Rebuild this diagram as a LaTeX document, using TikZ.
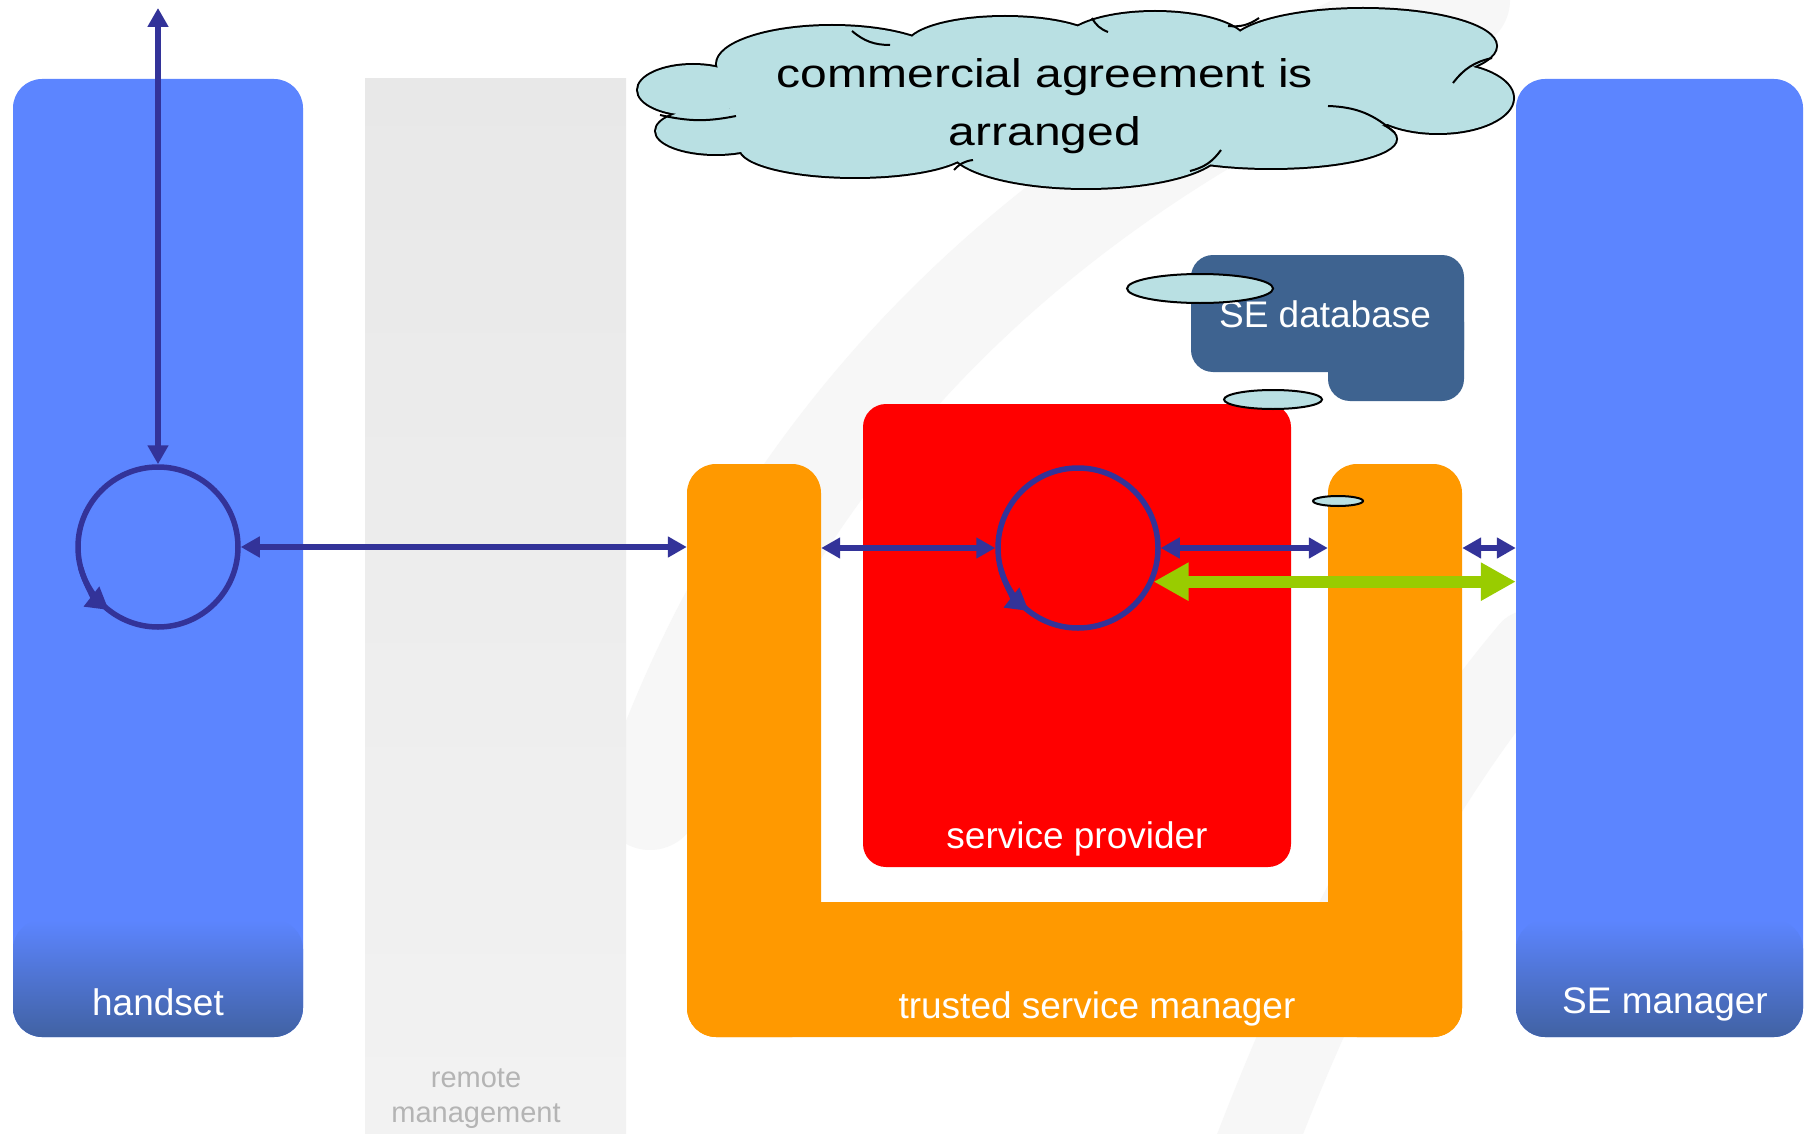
\documentclass[tikz,border=0pt]{standalone}
\usepackage{fontspec}
\setmainfont{Liberation Sans}
\newfontfamily\cloudfont[FakeStretch=1.2]{Liberation Sans}
\usepackage{xcolor}
\usepackage{tikz}
\usetikzlibrary{arrows.meta,positioning}

\definecolor{boxblue}{HTML}{5C85FF}
\definecolor{boxdark}{HTML}{4162A3}
\definecolor{tsmorange}{HTML}{FF9900}
\definecolor{spred}{HTML}{FF0000}
\definecolor{dbblue}{HTML}{3E6390}
\definecolor{arrowblue}{HTML}{333399}
\definecolor{arrowgreen}{HTML}{99CC00}
\definecolor{cloudcyan}{HTML}{B9E0E3}
\definecolor{remotegray}{HTML}{B4B4B4}

\tikzset{
	panel/.style={rectangle, rounded corners=29pt, fill=boxblue, inner sep=0pt, minimum height=958pt},
	panelfoot/.style={rectangle, rounded corners=29pt, top color=boxblue, bottom color=boxdark, inner sep=0pt, minimum height=117pt},
	arm/.style={rectangle, rounded corners=29pt, fill=tsmorange, inner sep=0pt},
	dbbox/.style={rectangle, rounded corners=22pt, fill=dbblue, inner sep=0pt},
	ring/.style={circle, minimum size=160pt, inner sep=0pt, draw=arrowblue, line width=5.5pt},
	ringtip/.style={draw=arrowblue, line width=5.5pt, -{Triangle[length=22pt,width=24pt]}},
	dbl/.style={draw=arrowblue, line width=6pt, {Triangle[length=19pt,width=20pt]}-{Triangle[length=19pt,width=20pt]}},
	fat/.style={draw=arrowgreen, line width=12pt, {Triangle[length=35pt,width=36pt]}-{Triangle[length=35pt,width=36pt]}},
	bubble/.style={fill=cloudcyan, draw=black, line width=2pt},
	lbl/.style={text=white, font=\fontsize{37}{44}\selectfont, inner sep=0pt, anchor=base},
	swoosh/.style={draw=black!3, line width=100pt, line cap=round},
	crease/.style={draw=black, line width=2pt},
}

\begin{document}
\begin{tikzpicture}[x=1pt,y=1pt]
	\useasboundingbox[fill=white] (0,0) rectangle (1811,-1134);
	\draw[swoosh] (650,-800) .. controls (760,-480) and (1000,-180) .. (1460,0);
	\draw[swoosh, line width=80pt] (1250,-1160) .. controls (1330,-950) and (1420,-780) .. (1530,-650);

	\node[rectangle, inner sep=0pt, minimum width=261pt, minimum height=1055pt, top color=black!9, bottom color=black!5] at (495.5,-606.5)(remote){};
	\node[inner sep=0pt, anchor=north, align=center, text=remotegray, font=\fontsize{29}{35}\selectfont] at (476,-1069)(remotelbl){remote\\management};

	\node[panel, minimum width=290pt] at (158,-558)(handset){};
	\node[panelfoot, minimum width=290pt] at (158,-978.5)(handsetfoot){};
	\node[lbl] at (158,-1015)(handsetlbl){handset};

	\node[panel, minimum width=287pt] at (1659.5,-558)(semgr){};
	\node[panelfoot, minimum width=287pt] at (1659.5,-978.5)(semgrfoot){};
	\node[lbl] at (1665,-1013)(semgrlbl){SE manager};

	\node[arm, minimum width=134pt, minimum height=573pt] at (754,-750.5)(tsmL){};
	\node[arm, minimum width=134pt, minimum height=573pt] at (1395,-750.5)(tsmR){};
	\node[arm, minimum width=775pt, minimum height=135pt] at (1074.5,-969.5)(tsmbar){};
	\node[lbl] at (1097,-1018)(tsmlbl){trusted service manager};

	\node[rectangle, rounded corners=23pt, fill=spred, inner sep=0pt, minimum width=428pt, minimum height=463pt] at (1077,-635.5)(sp){};
	\node[lbl] at (1077,-848)(splbl){service provider};

	\node[dbbox, minimum width=273pt, minimum height=117pt] at (1327.5,-313.5)(sedb){};
	\node[dbbox, minimum width=136pt, minimum height=101pt] at (1396,-350.5)(sedbtab){};
	\node[lbl] at (1325,-327)(sedblbl){SE database};

	\draw[bubble] (1200,-288.5) ellipse [x radius=73, y radius=14.5];
	\draw[bubble] (1273,-399.5) ellipse [x radius=49, y radius=9.5];
	\draw[bubble] (1338,-501) ellipse [x radius=25, y radius=5];

	\foreach \cx/\cy/\rx/\ry in {693/-90/55/25, 716/-131/60/23, 855/-148/115/29, 1086/-148/136/40, 1271/-139/125/29, 1438/-98/75/35, 1363/-46/133/37, 1155/-44/92/32, 1005/-46/98/29, 832/-64/115/38, 1074/-98/350/58}
		\draw[line width=4pt] (\cx,\cy) ellipse [x radius=\rx, y radius=\ry];
	\foreach \cx/\cy/\rx/\ry in {693/-90/55/25, 716/-131/60/23, 855/-148/115/29, 1086/-148/136/40, 1271/-139/125/29, 1438/-98/75/35, 1363/-46/133/37, 1155/-44/92/32, 1005/-46/98/29, 832/-64/115/38, 1074/-98/350/58}
		\fill[cloudcyan] (\cx,\cy) ellipse [x radius=\rx, y radius=\ry];
	\draw[crease] (660,-115) to[bend right=12] (736,-116);
	\draw[crease] (852,-31) to[bend right=20] (890,-45);
	\draw[crease] (1092,-18) to[bend right=20] (1108,-32);
	\draw[crease] (1228,-26) to[bend right=20] (1259,-18);
	\draw[crease] (1453,-83) to[bend left=20] (1492,-58);
	\draw[crease] (1328,-106) to[bend left=20] (1395,-133);
	\draw[crease] (1190,-171) to[bend right=20] (1221,-150);
	\draw[crease] (954,-170) to[bend left=20] (973,-160);
	\node[inner sep=0pt, anchor=north, align=center, font=\cloudfont\fontsize{40}{58}\selectfont] at (1045,-58)(cloudtxt){commercial agreement is\\arranged};

	\node[ring] at (158,-547)(hcycle){};
	\draw[ringtip] (hcycle.center) ++(195:80) arc[start angle=195, end angle=232, radius=80];
	\node[ring] at (1078,-548)(spcycle){};
	\draw[ringtip] (spcycle.center) ++(195:80) arc[start angle=195, end angle=232, radius=80];

	\coordinate (hup) at (158,-8);
	\draw[dbl] (hcycle.north) -- (hup);
	\draw[dbl] (hcycle.east) -- (hcycle.east -| tsmL.west);
	\draw[dbl] (tsmL.east |- spcycle.west) -- (spcycle.west);
	\draw[dbl] (spcycle.east) -- (spcycle.east -| tsmR.west);
	\draw[dbl] (tsmR.east |- spcycle.east) -- (spcycle.east -| semgr.west);
	\draw[fat] (spcycle.-24) -- (spcycle.-24 -| semgr.west);
\end{tikzpicture}
\end{document}
